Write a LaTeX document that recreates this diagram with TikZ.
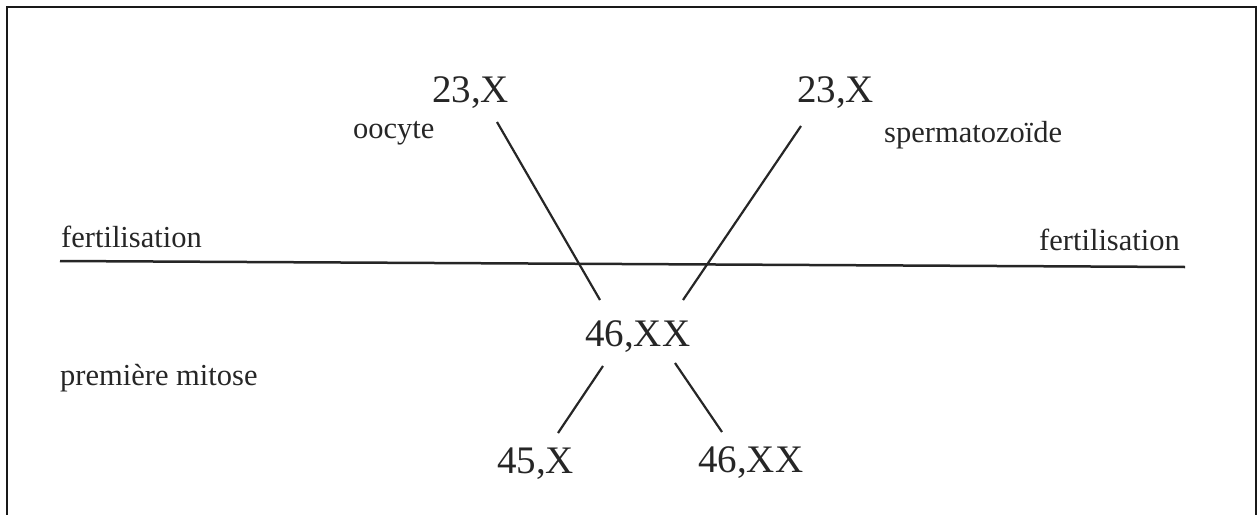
\documentclass[tikz,border=0pt]{standalone}
\usepackage{fontspec}
\setmainfont{Liberation Serif}
\begin{document}
\begin{tikzpicture}[x=1pt,y=-1pt,
  big/.style={anchor=base west,inner sep=0pt,text=black!85,font=\fontsize{39}{40}\selectfont},
  small/.style={anchor=base west,inner sep=0pt,text=black!85,font=\fontsize{30.5}{31}\selectfont},
  link/.style={line width=2.2pt,draw=black!85},
  frame/.style={line width=2.2pt,draw=black!90}]
\useasboundingbox (0,0) rectangle (1258,514);
% frame (bottom edge lies outside)
\draw[frame] (7,520) -- (7,7) -- (1256,7) -- (1256,520);
% labels
\node[big] (a) at (432,102) {23,X};
\node[big] (b) at (797,102) {23,X};
\node[big] (c) at (585,346) {46,XX};
\node[big] (d) at (497,473) {45,X};
\node[big] (e) at (698,472) {46,XX};
\node[small] (oo) at (353,138) {oocyte};
\node[small] (sp) at (884,142) {spermatozoïde};
\node[small] (f1) at (61,247) {fertilisation};
\node[small] (f2) at (1039,250) {fertilisation};
\node[small] (pm) at (60,385) {première mitose};
% line end points
\coordinate (a1) at (497,122);
\coordinate (c1) at (600,300);
\coordinate (b1) at (801,126);
\coordinate (c2) at (683,300);
\coordinate (c3) at (603,366);
\coordinate (d1) at (558,433);
\coordinate (c4) at (675,363);
\coordinate (e1) at (722,432);
\coordinate (hl) at (60,261);
\coordinate (hr) at (1185,267);
% connectors
\draw[link,line width=2.5pt] (hl) -- (hr);
\draw[link] (a1) -- (c1);
\draw[link] (b1) -- (c2);
\draw[link] (c3) -- (d1);
\draw[link] (c4) -- (e1);
\end{tikzpicture}
\end{document}
